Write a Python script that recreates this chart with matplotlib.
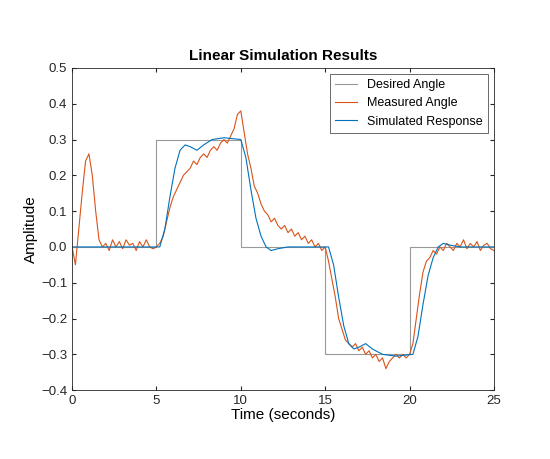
import numpy as np
import matplotlib.pyplot as plt

plt.rcParams['font.family'] = ['Liberation Sans', 'DejaVu Sans']

# desired step input
t_des = [0, 5, 5, 10, 10, 15, 15, 20, 20, 25]
desired = [0, 0, 0.3, 0.3, 0, 0, -0.3, -0.3, 0, 0]

t_meas = np.arange(0, 25.01, 0.2)
measured = [0.0, -0.05, 0.05, 0.15, 0.24, 0.26, 0.2, 0.1, 0.02, 0.0,
            0.01, -0.01, 0.02, 0.0, 0.015, -0.005, 0.02, 0.005, 0.01, -0.01,
            0.015, 0.0, 0.02, 0.0, -0.005, 0.0, 0.01, 0.03, 0.07, 0.11,
            0.14, 0.16, 0.18, 0.2, 0.21, 0.22, 0.24, 0.23, 0.25, 0.26,
            0.25, 0.27, 0.28, 0.27, 0.29, 0.3, 0.29, 0.31, 0.33, 0.37,
            0.38, 0.32, 0.26, 0.22, 0.17, 0.15, 0.12, 0.1, 0.09, 0.07,
            0.08, 0.06, 0.05, 0.06, 0.04, 0.05, 0.03, 0.04, 0.02, 0.03,
            0.01, 0.02, 0.0, 0.01, -0.01, 0.0, -0.04, -0.09, -0.14, -0.2,
            -0.23, -0.26, -0.27, -0.28, -0.27, -0.29, -0.28, -0.3, -0.29, -0.31,
            -0.3, -0.32, -0.31, -0.34, -0.32, -0.31, -0.3, -0.31, -0.3, -0.31,
            -0.3, -0.27, -0.2, -0.13, -0.07, -0.04, -0.03, -0.01, -0.02, 0.0,
            -0.01, 0.01, 0.0, -0.01, 0.01, 0.0, 0.02, -0.005, 0.01, 0.0,
            0.015, -0.01, 0.005, 0.01, -0.005, -0.01]

# simulated response
t_sim = [0, 5.2, 5.5, 5.8, 6.1, 6.4, 6.7, 7.0, 7.4, 7.8, 8.3, 9.0, 10.0,
         10.3, 10.6, 10.9, 11.2, 11.5, 11.8, 12.2, 12.8, 15.2,
         15.5, 15.8, 16.1, 16.4, 16.7, 17.0, 17.4, 17.8, 18.4, 19.2, 20.2,
         20.5, 20.8, 21.1, 21.4, 21.7, 22.0, 22.4, 23.0, 25.0]
simulated = [0, 0, 0.05, 0.14, 0.22, 0.27, 0.285, 0.28, 0.27, 0.285, 0.3, 0.305, 0.3,
             0.25, 0.16, 0.08, 0.03, 0.0, -0.01, -0.005, 0.0, 0.0,
             -0.05, -0.14, -0.22, -0.27, -0.285, -0.28, -0.27, -0.285, -0.3, -0.305, -0.3,
             -0.25, -0.16, -0.08, -0.03, 0.0, 0.01, 0.005, 0.0, 0.0]

fig = plt.figure(figsize=(5.5, 4.59), dpi=100)
ax = fig.add_axes([0.131, 0.150, 0.767, 0.702])
ax.plot(t_des, desired, color="#999999", lw=0.8, label="Desired Angle")
ax.plot(t_meas, measured, color="#D95319", lw=0.8, label="Measured Angle")
ax.plot(t_sim, simulated, color="#0072BD", lw=0.8, label="Simulated Response")

ax.set_xlim(0, 25)
ax.set_ylim(-0.4, 0.5)
ax.set_xticks([0, 5, 10, 15, 20, 25])
ax.set_yticks(np.round(np.arange(-0.4, 0.51, 0.1), 1))
ax.tick_params(direction="in", labelsize=9.5, colors="#262626", top=True, right=True, length=3)
for s in ax.spines.values():
    s.set_color("#262626")
    s.set_linewidth(0.6)
ax.set_xlabel("Time (seconds)", fontsize=11, labelpad=1)
ax.set_ylabel("Amplitude", fontsize=11, labelpad=2)
ax.set_title("Linear Simulation Results", fontsize=11, fontweight="bold")
leg = ax.legend(loc="upper right", fontsize=9, fancybox=False, edgecolor="#262626",
                handlelength=1.8, borderaxespad=0.5)
leg.get_frame().set_linewidth(0.6)

fig.savefig("out.png", dpi=100)
